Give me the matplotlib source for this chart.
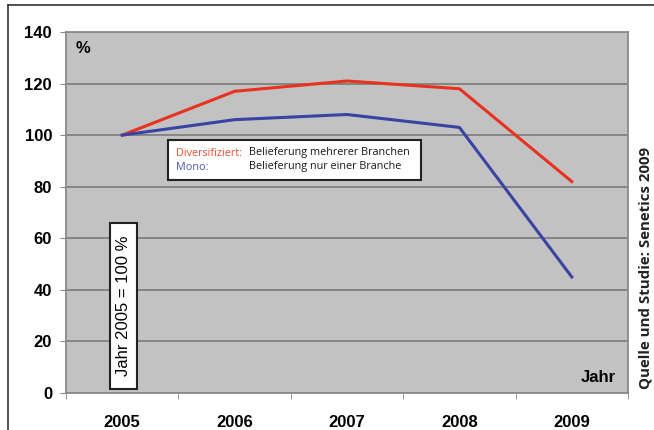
import numpy as np
import matplotlib
matplotlib.use("Agg")
import matplotlib.pyplot as plt
from matplotlib.patches import Rectangle
from matplotlib.lines import Line2D

years = ["2005", "2006", "2007", "2008", "2009"]
diversifiziert = [100, 117, 121, 118, 82]
mono = [100, 106, 108, 103, 45]
yticks = [0, 20, 40, 60, 80, 100, 120, 140]

W, H = 654, 430
fig = plt.figure(figsize=(W / 100, H / 100), dpi=100)
fig.patch.set_facecolor("white")

# outer frame lines (top and left)
fig.add_artist(Line2D([8 / W, 1], [1 - 5 / H, 1 - 5 / H], color="#333333", lw=1.2))
fig.add_artist(Line2D([8 / W, 8 / W], [0, 1 - 5 / H], color="#333333", lw=1.2))

ax = fig.add_axes([66 / W, 1 - 393 / H, (628 - 66) / W, (393 - 32) / H])
ax.set_facecolor("#c2c2c2")

x = np.arange(len(years))
ax.plot(x, diversifiziert, color="#e8321f", lw=2.2, solid_joinstyle="round", zorder=3)
ax.plot(x, mono, color="#3943a3", lw=2.2, solid_joinstyle="round", zorder=3)

ax.set_xlim(-0.5, len(years) - 0.5)
ax.set_ylim(0, 140)
ax.set_yticks(yticks)
ax.set_yticklabels([str(v) for v in yticks], fontsize=12, fontweight="bold",
                   family="Liberation Sans")
ax.set_xticks(x)
ax.set_xticklabels(years, fontsize=12, fontweight="bold", family="Liberation Sans")
ax.set_xticks(np.arange(-0.5, len(years)), minor=True)
ax.tick_params(axis="x", which="major", length=0, pad=16)
ax.tick_params(axis="x", which="minor", length=4, color="#888888", direction="out")
ax.tick_params(axis="y", length=4, color="#888888", pad=6)

ax.grid(axis="y", color="#7a7a7a", lw=1.2, zorder=1)
ax.set_axisbelow(True)
for s in ax.spines.values():
    s.set_color("#8a8a8a")
    s.set_linewidth(1.3)

ax.text(0.017, 0.955, "%", transform=ax.transAxes, fontsize=12, fontweight="bold",
        family="Liberation Sans", va="center", ha="left")
ax.text(0.979, 0.042, "Jahr", transform=ax.transAxes, fontsize=12, fontweight="bold",
        family="Liberation Sans", va="center", ha="right")

# legend box
ax.add_patch(Rectangle((0.1815, 0.59), 0.4502, 0.1108, transform=ax.transAxes,
                       facecolor="white", edgecolor="#222222", lw=1.5, zorder=4))
lab_font = dict(fontsize=7.8, family="Open Sans", va="center",
                ha="left", transform=ax.transAxes, zorder=5)
y1 = (393 - 153) / 361
y2 = (393 - 167) / 361
ax.text((176 - 66) / 562, y1, "Diversifiziert:", color="#e2502f", **lab_font)
ax.text((176 - 66) / 562, y2, "Mono:", color="#4c55b0", **lab_font)
ax.text((249 - 66) / 562, y1, "Belieferung mehrerer Branchen", color="#1a1a1a", **lab_font)
ax.text((249 - 66) / 562, y2, "Belieferung nur einer Branche", color="#1a1a1a", **lab_font)

# base year note
ax.add_patch(Rectangle((0.0783, 0.011), 0.048, 0.46, transform=ax.transAxes,
                       facecolor="white", edgecolor="#222222", lw=1.5, zorder=4))
ax.text(0.1023, 0.241, "Jahr 2005 = 100 %", transform=ax.transAxes, rotation=90,
        fontsize=12, family="Liberation Sans", va="center", ha="center", zorder=5)

# source note
fig.text(645 / W, 1 - 268 / H, "Quelle und Studie: Senetics 2009", rotation=90,
         fontsize=10.8, fontweight="bold", family="Open Sans", va="center", ha="center",
         color="#222222")

fig.savefig("out.png", dpi=100)
